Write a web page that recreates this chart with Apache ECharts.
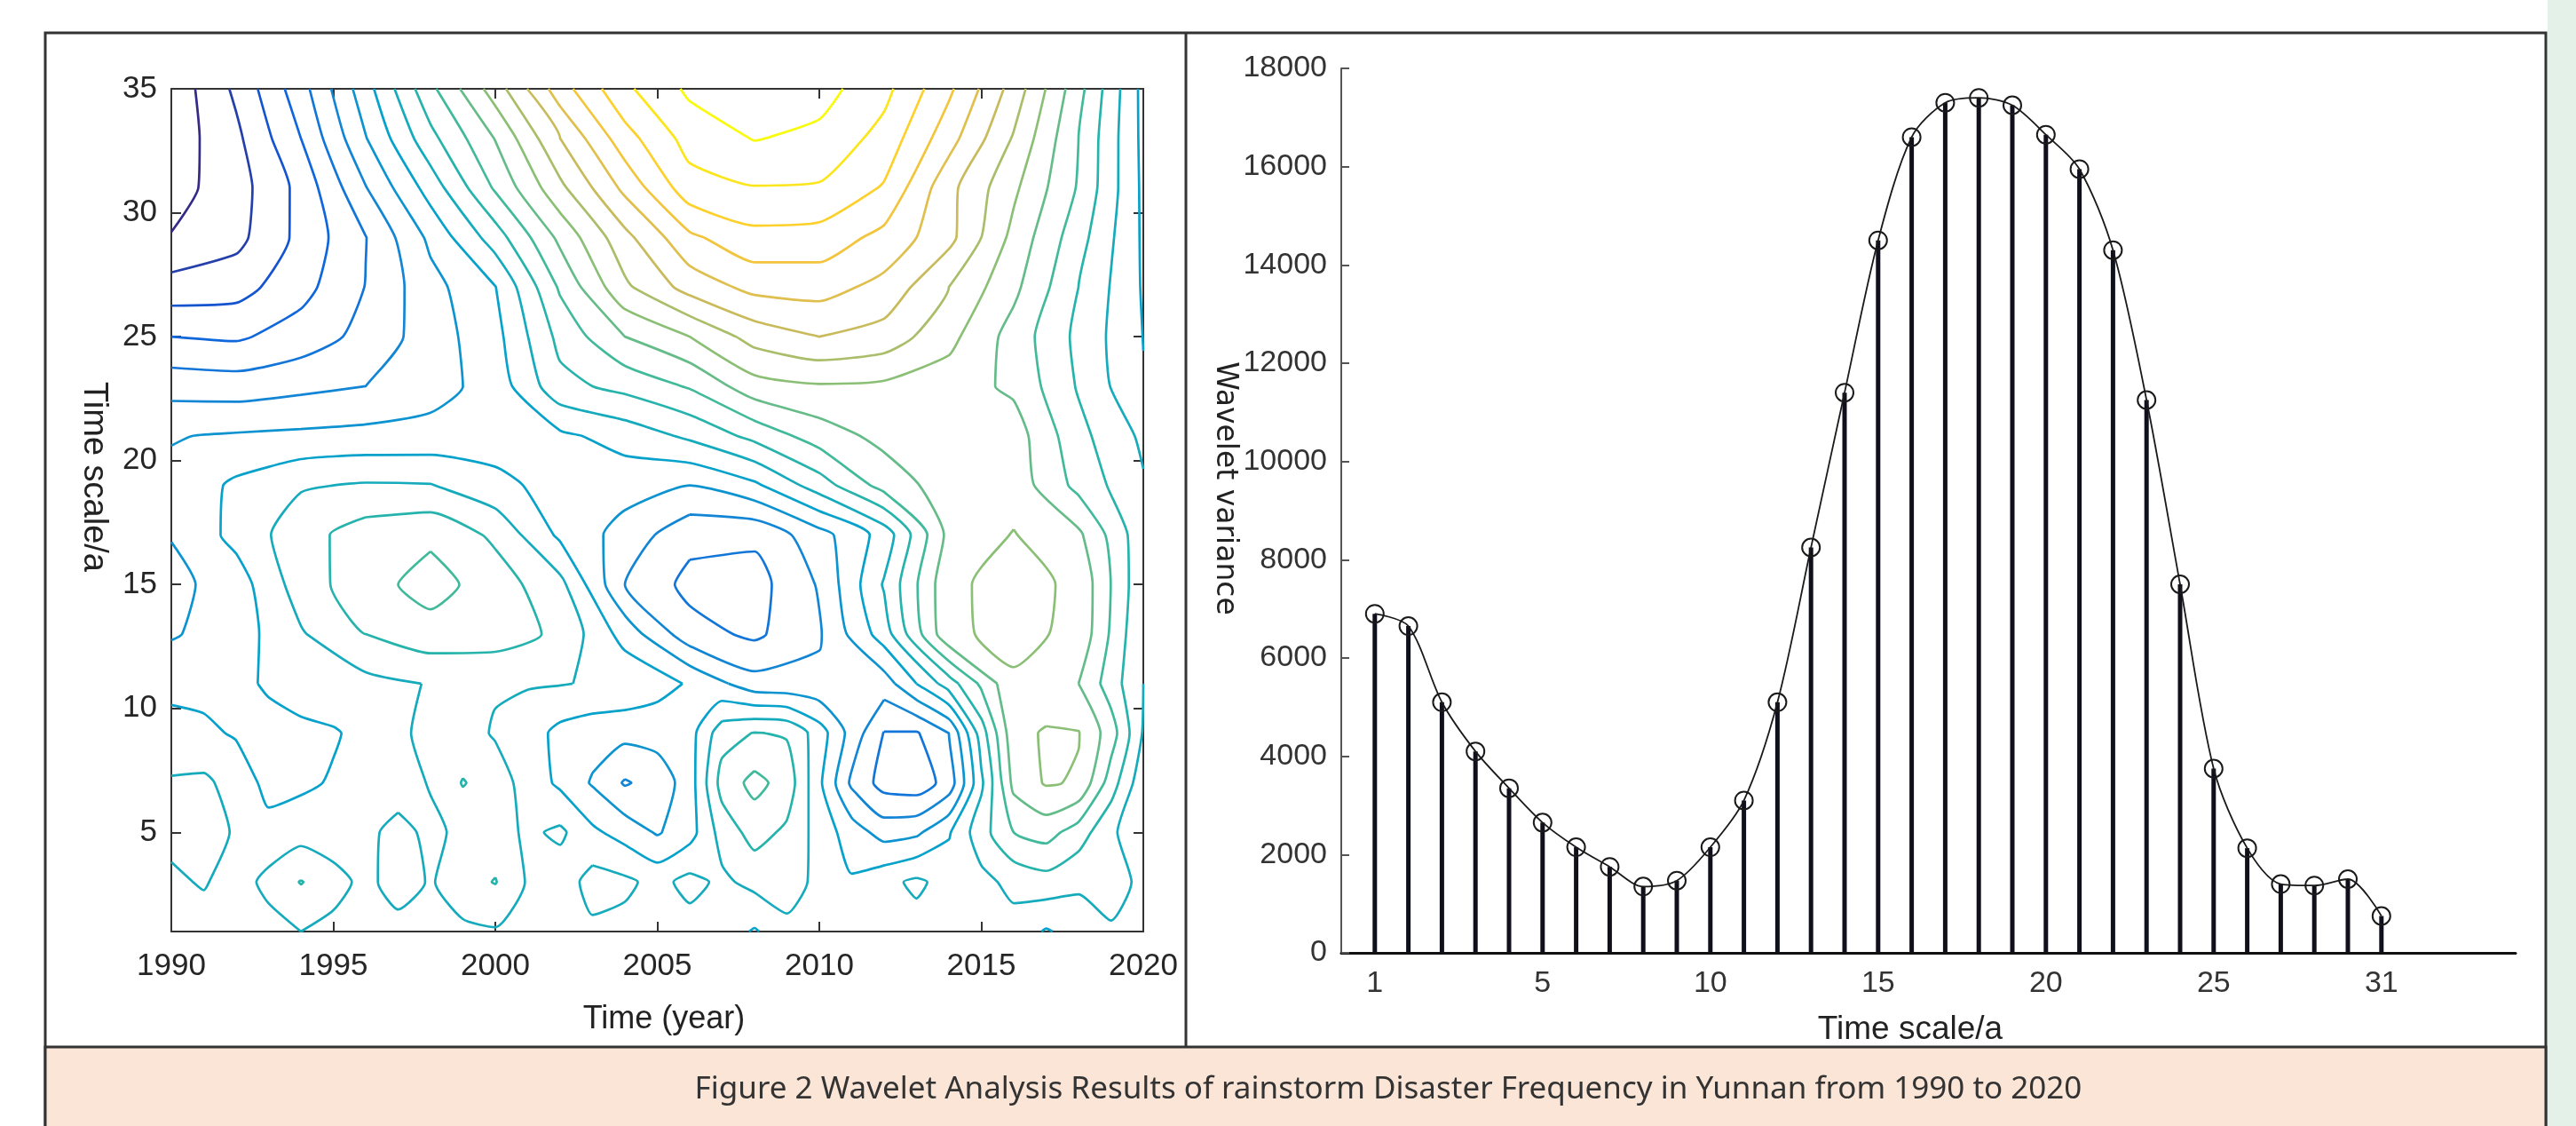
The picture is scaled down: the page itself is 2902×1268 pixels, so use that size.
<!DOCTYPE html>
<html>
<head>
<meta charset="utf-8">
<title>Wavelet analysis of rainstorm disaster frequency</title>
<script src="https://cdn.jsdelivr.net/npm/echarts@6.0.0/dist/echarts.min.js"></script>
<style>
  html, body { margin: 0; padding: 0; background: #ffffff; }
  #chart { width: 2902px; height: 1268px; }
</style>
</head>
<body>
<div id="chart"></div>
<script>
// left panel: wavelet coefficients (in contour-level units)
// upper part: every 2 years, time scales 35..11
const yearsUpper = [1990, 1992, 1994, 1996, 1998, 2000, 2002, 2004, 2006, 2008, 2010, 2012, 2014, 2016, 2018, 2020];
const scalesUpper = [35, 33, 31, 29, 27, 25, 23, 21, 19, 17, 15, 13, 11];
const coefUpper = [
  [0.3, 2.2, 4.6, 7.6, 10.75, 13.5, 16.55, 18.8, 20.2, 20.7, 20.4, 19.3, 17.2, 14.6, 11.35, 7.7],   // 35
  [0.4, 1.77, 4.0, 6.95, 9.7, 12.05, 15.0, 17.6, 19.4, 20.05, 19.75, 18.65, 16.4, 13.9, 11.0, 7.75], // 33
  [0.6, 1.56, 3.3, 5.95, 8.43, 11.14, 13.75, 16.26, 18.6, 18.95, 18.9, 17.9, 15.3, 13.2, 10.9, 7.8], // 31
  [1.05, 1.7, 3.28, 4.97, 7.23, 9.5, 12.25, 14.7, 16.8, 17.7, 17.6, 16.7, 15.3, 12.7, 10.4, 7.85],  // 29
  [2.4, 2.6, 3.65, 5.03, 6.65, 7.97, 11.15, 13.8, 15.4, 16.3, 16.4, 15.7, 14.0, 12.25, 10.0, 7.9],  // 27
  [4.0, 3.85, 4.45, 5.3, 6.5, 7.67, 10.3, 12.0, 13.0, 14.4, 15.0, 14.6, 13.3, 11.6, 9.75, 7.98],    // 25
  [5.6, 5.5, 5.75, 6.0, 6.6, 7.4, 9.7, 10.3, 11.1, 12.6, 12.9, 12.8, 12.5, 11.8, 9.9, 8.05],        // 23
  [6.95, 7.1, 7.2, 7.3, 7.35, 7.5, 7.8, 8.4, 9.2, 10.3, 11.5, 12.3, 12.6, 12.5, 10.3, 8.8],         // 21
  [7.2, 8.2, 8.9, 9.1, 9.05, 8.3, 7.6, 7.4, 7.0, 7.8, 9.5, 11.4, 12.5, 12.6, 10.7, 9.1],            // 19
  [7.05, 8.3, 9.6, 10.5, 10.8, 9.8, 7.8, 6.6, 5.3, 5.2, 6.6, 8.4, 12.3, 13.05, 12.2, 9.3],          // 17
  [6.7, 7.5, 9.5, 10.6, 11.4, 10.5, 9.3, 6.0, 4.7, 4.6, 6.1, 9.1, 12.78, 13.4, 12.78, 9.2],         // 15
  [6.9, 7.5, 8.9, 10.0, 10.6, 10.5, 9.8, 7.6, 5.4, 4.8, 5.9, 8.5, 12.8, 13.3, 12.75, 9.0],          // 13
  [7.7, 7.7, 8.6, 8.7, 9.05, 9.1, 9.05, 8.8, 7.9, 6.4, 6.2, 6.5, 9.5, 12.85, 12.0, 9.0]             // 11
];
// lower part: every year, time scales 11..1
const yearsLower = [1990, 1991, 1992, 1993, 1994, 1995, 1996, 1997, 1998, 1999, 2000, 2001, 2002, 2003, 2004, 2005,
  2006, 2007, 2008, 2009, 2010, 2011, 2012, 2013, 2014, 2015, 2016, 2017, 2018, 2019, 2020];
const scalesLower = [11, 9, 7, 5, 3, 1];
const coefLower = [
  [7.7, 7.7, 7.7, 8.15, 8.6, 8.65, 8.7, 8.87, 9.05, 9.07, 9.1, 9.07, 9.05, 8.92, 8.8, 8.35,
   7.9, 7.15, 6.4, 6.3, 6.2, 6.35, 6.5, 8.01, 9.5, 11.2, 12.85, 12.4, 12.0, 10.5, 9.0],  // 11
  [8.4, 8.2, 7.9, 7.6, 7.7, 7.9, 8.3, 8.8, 9.3, 9.4, 8.9, 8.5, 7.7, 7.4, 7.3, 7.4,
   7.6, 9.6, 10.05, 9.9, 8.5, 6.6, 4.95, 4.9, 6.0, 9.5, 12.7, 13.1, 13.05, 11.5, 8.9],  // 9
  [9.1, 9.2, 8.6, 7.7, 7.8, 8.1, 8.2, 8.4, 9.1, 10.06, 9.5, 8.6, 7.8, 6.9, 5.9, 6.4,
   7.5, 10.4, 11.3, 10.6, 8.2, 5.8, 4.6, 4.4, 5.4, 8.8, 12.3, 13.1, 12.9, 10.5, 8.3],   // 7
  [9.3, 9.4, 8.9, 8.3, 8.6, 8.4, 8.7, 9.4, 8.7, 9.3, 9.5, 8.8, 9.2, 8.2, 7.6, 6.9,
   7.6, 9.4, 10.4, 9.8, 8.6, 7.5, 6.6, 6.8, 7.9, 9.6, 11.0, 11.4, 10.5, 9.2, 8.2],      // 5
  [8.8, 9.1, 8.5, 9.3, 10.05, 9.4, 8.7, 9.5, 8.9, 9.6, 10.05, 8.9, 8.4, 9.4, 9.2, 8.7,
   9.3, 8.8, 9.3, 9.7, 8.6, 8.1, 8.7, 9.2, 8.6, 8.7, 9.3, 9.6, 9.2, 9.7, 8.6],          // 3
  [8.4, 8.5, 8.8, 8.6, 9.0, 8.7, 8.4, 8.6, 8.7, 8.8, 8.9, 8.6, 8.3, 8.8, 8.7, 8.9,
   8.6, 8.5, 7.9, 8.6, 8.5, 8.3, 8.4, 8.6, 8.5, 8.4, 8.6, 7.9, 8.4, 8.8, 8.3]           // 1
];
const contourLevels = [1, 2, 3, 4, 5, 6, 7, 8, 9, 10, 11, 12, 13, 14, 15, 16, 17, 18, 19, 20];
const scaleTicks = [5, 10, 15, 20, 25, 30, 35];

// right panel: wavelet variance per time scale
const timeScale = [1, 2, 3, 4, 5, 6, 7, 8, 9, 10, 11, 12, 13, 14, 15, 16, 17, 18, 19, 20, 21, 22, 23, 24, 25, 26, 27, 28, 29, 30, 31];
const variance = [6900, 6650, 5100, 4100, 3350, 2650, 2150, 1750, 1350, 1470, 2150, 3100, 5100, 8250, 11400,
  14500, 16600, 17300, 17400, 17250, 16650, 15950, 14300, 11250, 7500, 3750, 2130, 1400, 1370, 1500, 750];
const stemTickPos = [1, 6, 11, 16, 21, 26, 31];
const stemTickText = ['1', '5', '10', '15', '20', '25', '31'];

const labelFont = '"Liberation Sans", Arial, sans-serif';

// parula-like colour ramp
const parulaStops = [
  [0.0, [53, 42, 135]], [0.125, [15, 92, 221]], [0.25, [20, 129, 214]],
  [0.375, [6, 164, 202]], [0.5, [46, 183, 164]], [0.625, [135, 191, 119]],
  [0.75, [209, 187, 89]], [0.875, [254, 200, 50]], [1.0, [249, 251, 14]]
];
function parula(t) {
  for (let i = 1; i < parulaStops.length; i++) {
    if (t <= parulaStops[i][0]) {
      const [t0, c0] = parulaStops[i - 1];
      const [t1, c1] = parulaStops[i];
      const f = (t - t0) / (t1 - t0);
      const c = c0.map((v, k) => Math.round(v + (c1[k] - v) * f));
      return 'rgb(' + c.join(',') + ')';
    }
  }
  return 'rgb(249,251,14)';
}

// marching squares on a rectilinear grid, returns polylines in data coordinates
function contourLines(rows, xs, ys, level) {
  const pts = {};
  const links = {};
  const val = (r, c) => (rows[r][c] === level ? rows[r][c] + 1e-6 : rows[r][c]);
  const edge = (key, r1, c1, r2, c2) => {
    if (!pts[key]) {
      const v1 = val(r1, c1), v2 = val(r2, c2);
      const t = (level - v1) / (v2 - v1);
      pts[key] = [xs[c1] + (xs[c2] - xs[c1]) * t, ys[r1] + (ys[r2] - ys[r1]) * t];
    }
    return key;
  };
  const link = (a, b) => {
    (links[a] = links[a] || []).push(b);
    (links[b] = links[b] || []).push(a);
  };
  for (let r = 0; r < rows.length - 1; r++) {
    for (let c = 0; c < xs.length - 1; c++) {
      const tl = val(r, c) > level, tr = val(r, c + 1) > level;
      const br = val(r + 1, c + 1) > level, bl = val(r + 1, c) > level;
      const e = {};
      if (tl !== tr) e.top = edge('h' + r + '_' + c, r, c, r, c + 1);
      if (tr !== br) e.right = edge('v' + r + '_' + (c + 1), r, c + 1, r + 1, c + 1);
      if (bl !== br) e.bottom = edge('h' + (r + 1) + '_' + c, r + 1, c, r + 1, c + 1);
      if (tl !== bl) e.left = edge('v' + r + '_' + c, r, c, r + 1, c);
      const ks = Object.keys(e);
      if (ks.length === 2) {
        link(e[ks[0]], e[ks[1]]);
      } else if (ks.length === 4) {
        const mid = (val(r, c) + val(r, c + 1) + val(r + 1, c + 1) + val(r + 1, c)) / 4 > level;
        if (mid === tl) { link(e.top, e.right); link(e.bottom, e.left); }
        else { link(e.left, e.top); link(e.right, e.bottom); }
      }
    }
  }
  const used = {};
  const walk = (start) => {
    const line = [pts[start]];
    used[start] = true;
    let cur = start;
    while (true) {
      const next = links[cur].find(k => !used[k]);
      if (next === undefined) {
        if (line.length > 2 && links[cur].includes(start)) line.push(pts[start]);
        break;
      }
      used[next] = true;
      line.push(pts[next]);
      cur = next;
    }
    return line;
  };
  const out = [];
  const keys = Object.keys(links);
  keys.filter(k => links[k].length === 1).forEach(k => { if (!used[k]) out.push(walk(k)); });
  keys.forEach(k => { if (!used[k]) out.push(walk(k)); });
  return out;
}

const contourSeries = [];
const lo = contourLevels[0], hi = contourLevels[contourLevels.length - 1];
[[coefUpper, yearsUpper, scalesUpper], [coefLower, yearsLower, scalesLower]].forEach(([rows, xs, ys]) => {
  contourLevels.forEach(level => {
    const color = parula((level - lo) / (hi - lo));
    contourLines(rows, xs, ys, level).forEach(line => {
      contourSeries.push({
        type: 'line',
        xAxisIndex: 0,
        yAxisIndex: 0,
        data: line,
        symbol: 'none',
        smooth: 0.2,
        silent: true,
        lineStyle: { color: color, width: 2.7 },
        z: 3
      });
    });
  });
});

const boxAxisLine = { show: true, onZero: false, lineStyle: { color: '#333', width: 2 } };
const boxTick = { inside: true, length: 11, lineStyle: { color: '#333', width: 2 } };
const tickLabel = { fontSize: 35, fontFamily: labelFont, color: '#262626', formatter: v => String(v) };

const chart = echarts.init(document.getElementById('chart'));

chart.setOption({
  backgroundColor: '#ffffff',
  animation: false,
  grid: [
    { left: 193, top: 100, width: 1095, height: 949 },
    { left: 1511, top: 77, width: 1323, height: 996 }
  ],
  xAxis: [
    {
      gridIndex: 0, type: 'value', min: 1990, max: 2020, interval: 5, position: 'bottom',
      axisLine: boxAxisLine, axisTick: boxTick, splitLine: { show: false },
      axisLabel: Object.assign({}, tickLabel, { margin: 22 })
    },
    {
      gridIndex: 0, type: 'value', min: 1990, max: 2020, interval: 5, position: 'top',
      axisLine: boxAxisLine, axisTick: boxTick, splitLine: { show: false },
      axisLabel: { show: false }
    },
    {
      gridIndex: 1, type: 'value', min: 0, max: 35, position: 'bottom',
      axisLine: { show: true, onZero: false, lineStyle: { color: '#111', width: 3 } },
      axisTick: { show: false }, splitLine: { show: false },
      axisLabel: Object.assign({}, tickLabel, {
        margin: 18,
        fontSize: 34,
        color: '#333',
        customValues: stemTickPos,
        formatter: v => stemTickText[stemTickPos.indexOf(v)]
      })
    }
  ],
  yAxis: [
    {
      gridIndex: 0, type: 'value', min: 1, max: 35, position: 'left',
      axisLine: boxAxisLine, splitLine: { show: false },
      axisTick: Object.assign({ customValues: scaleTicks }, boxTick),
      axisLabel: Object.assign({}, tickLabel, { margin: 16, customValues: scaleTicks })
    },
    {
      gridIndex: 0, type: 'value', min: 1, max: 35, position: 'right',
      axisLine: boxAxisLine, splitLine: { show: false },
      axisTick: Object.assign({ customValues: scaleTicks }, boxTick),
      axisLabel: { show: false }
    },
    {
      gridIndex: 1, type: 'value', min: 0, max: 18000, interval: 2000, position: 'left',
      axisLine: { show: true, lineStyle: { color: '#555', width: 2 } },
      axisTick: { show: true, inside: true, length: 9, lineStyle: { color: '#555', width: 2 } },
      splitLine: { show: false },
      axisLabel: Object.assign({}, tickLabel, { margin: 16, fontSize: 34, color: '#333' })
    }
  ],
  series: contourSeries.concat([
    {
      type: 'bar',
      xAxisIndex: 2,
      yAxisIndex: 2,
      barWidth: 5,
      data: timeScale.map((s, i) => [s, variance[i]]),
      itemStyle: { color: '#10101c' },
      silent: true
    },
    {
      type: 'line',
      xAxisIndex: 2,
      yAxisIndex: 2,
      data: timeScale.map((s, i) => [s, variance[i]]),
      smooth: 0.3,
      symbol: 'circle',
      symbolSize: 20,
      showAllSymbol: true,
      lineStyle: { color: '#1a1a1a', width: 1.8 },
      itemStyle: { color: 'rgba(0,0,0,0)', borderColor: '#1a1a1a', borderWidth: 2 },
      silent: true,
      z: 4
    }
  ]),
  graphic: [
    { type: 'rect', shape: { x: 2870, y: 0, width: 32, height: 1268 }, style: { fill: '#e4f1e8' }, z: 1 },
    {
      type: 'text', x: 748, y: 1148, z: 5,
      style: { text: 'Time (year)', font: '36px ' + labelFont, fill: '#222',
        align: 'center', verticalAlign: 'middle', textAlign: 'center', textVerticalAlign: 'middle' }
    },
    {
      type: 'text', x: 105, y: 537, rotation: -Math.PI / 2, z: 5,
      style: { text: 'Time scale/a', font: '38px ' + labelFont, fill: '#222',
        align: 'center', verticalAlign: 'middle', textAlign: 'center', textVerticalAlign: 'middle' }
    },
    {
      type: 'text', x: 1380, y: 550, rotation: -Math.PI / 2, z: 5,
      style: { text: 'Wavelet variance', font: '33px "DejaVu Sans", Verdana, sans-serif', fill: '#222',
        align: 'center', verticalAlign: 'middle', textAlign: 'center', textVerticalAlign: 'middle' }
    },
    {
      type: 'text', x: 2152, y: 1160, z: 5,
      style: { text: 'Time scale/a', font: '37px ' + labelFont, fill: '#222',
        align: 'center', verticalAlign: 'middle', textAlign: 'center', textVerticalAlign: 'middle' }
    },
    { type: 'rect', shape: { x: 51, y: 37, width: 2817, height: 1250 }, style: { fill: 'none', stroke: '#333', lineWidth: 3 }, z: 10 },
    { type: 'line', shape: { x1: 1336, y1: 37, x2: 1336, y2: 1179 }, style: { stroke: '#333', lineWidth: 3 }, z: 10 },
    { type: 'rect', shape: { x: 51, y: 1179, width: 2817, height: 110 }, style: { fill: '#fbe5d6', stroke: '#333', lineWidth: 3 }, z: 20 },
    {
      type: 'text', x: 1564, y: 1227, z: 21,
      style: { text: 'Figure 2 Wavelet Analysis Results of rainstorm Disaster Frequency in Yunnan from 1990 to 2020',
        font: '35px "Noto Sans", "Open Sans", sans-serif', fill: '#333',
        align: 'center', verticalAlign: 'middle', textAlign: 'center', textVerticalAlign: 'middle' }
    }
  ]
});
</script>
</body>
</html>
